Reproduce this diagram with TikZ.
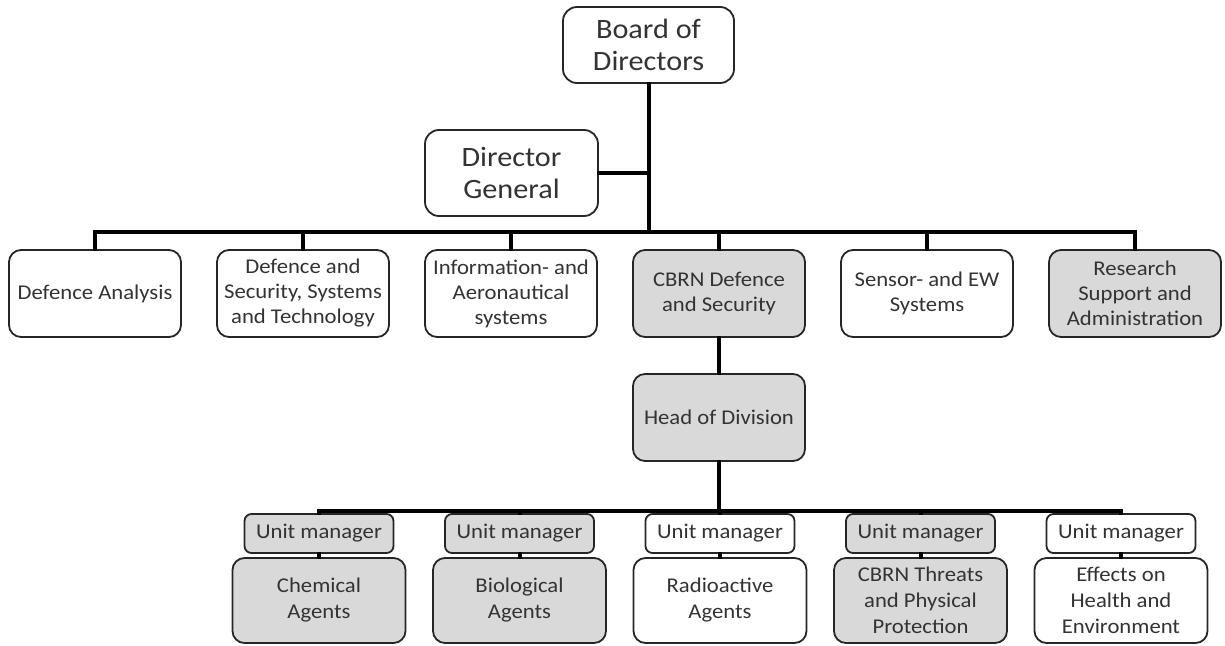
\documentclass[tikz,border=0pt]{standalone}
\usepackage{fontspec}
\setmainfont{Carlito}[FakeStretch=1.08]
\begin{document}
\begin{tikzpicture}[x=1pt,y=-1pt,
  box/.style={draw=black!85, line width=1.8pt, rounded corners=12pt, align=center,
    inner sep=0pt, text=black!80, font=\fontsize{21}{25}\selectfont},
  big/.style={box, rounded corners=14pt, font=\fontsize{28}{32}\selectfont},
  grey/.style={fill=black!15},
  lvl/.style={box, minimum width=172pt, minimum height=87pt},
  um/.style={box, rounded corners=7pt, minimum width=149pt, minimum height=39pt},
  ag/.style={box, minimum width=173pt, minimum height=85pt, font=\fontsize{21}{26}\selectfont},
  conn/.style={line width=4pt, line join=miter, line cap=rect}]
\useasboundingbox (0,0) rectangle (1225,645);
\fill[white] (0,0) rectangle (1225,645);

\node[big, minimum width=171pt, minimum height=76pt] (board) at (648.5,45) {Board of\\Directors};
\node[big, minimum width=173pt, minimum height=86pt] (dg) at (511.5,173) {Director\\General};

\node[lvl] (l1) at (95,293.5) {Defence Analysis};
\node[lvl] (l2) at (303,293.5) {Defence and\\Security, Systems\\and Technology};
\node[lvl] (l3) at (511,293.5) {Information- and\\Aeronautical\\systems};
\node[lvl, grey] (l4) at (719,293.5) {CBRN Defence\\and Security};
\node[lvl] (l5) at (927,293.5) {Sensor- and EW\\Systems};
\node[lvl, grey] (l6) at (1135,293.5) {Research\\Support and\\Administration};

\node[lvl, grey] (hod) at (719,417.5) {Head of Division};

\node[um, grey] (u1) at (319,533.5) {Unit manager};
\node[um, grey] (u2) at (519.5,533.5) {Unit manager};
\node[um] (u3) at (720,533.5) {Unit manager};
\node[um, grey] (u4) at (920.5,533.5) {Unit manager};
\node[um] (u5) at (1121,533.5) {Unit manager};

\node[ag, grey] (a1) at (319,600.5) {Chemical\\Agents};
\node[ag, grey] (a2) at (519.5,600.5) {Biological\\Agents};
\node[ag] (a3) at (720,600.5) {Radioactive\\Agents};
\node[ag, grey] (a4) at (920.5,600.5) {CBRN Threats\\and Physical\\Protection};
\node[ag] (a5) at (1121,600.5) {Effects on\\Health and\\Environment};

\coordinate (bus) at (648.5,232);
\coordinate (bus2) at (719,511);

\begin{scope}[conn]
\draw (board.south) -- (bus);
\draw (dg.east) -- (dg.east -| bus);
\draw (l1.north) -- (l1.north |- bus) -- (l6.north |- bus) -- (l6.north);
\foreach \n in {l2,l3,l4,l5} \draw (\n.north) -- (\n.north |- bus);
\draw (l4.south) -- (hod.north);
\draw (hod.south) -- (bus2);
\draw (u1.north) -- (u1.north |- bus2) -- (u5.north |- bus2) -- (u5.north);
\foreach \n in {u2,u3,u4} \draw (\n.north) -- (\n.north |- bus2);
\foreach \i in {1,...,5} \draw (u\i.south) -- (a\i.north);
\end{scope}
\end{tikzpicture}
\end{document}
